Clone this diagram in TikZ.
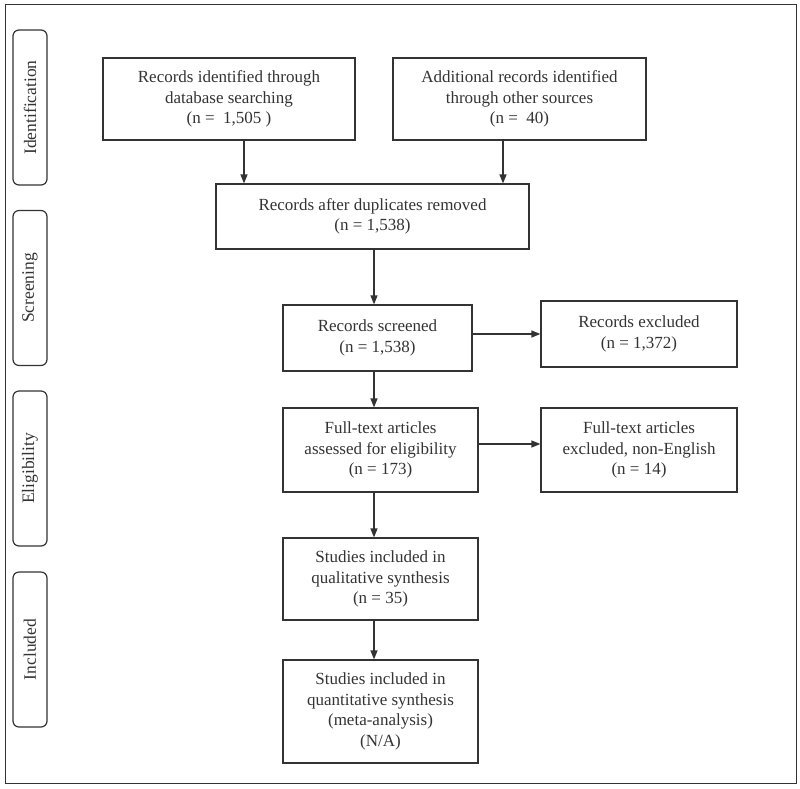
\documentclass[tikz,border=0pt]{standalone}
\usepackage{fontspec}
\setmainfont{Liberation Serif}
\usetikzlibrary{arrows.meta}
\begin{document}
\begin{tikzpicture}[x=1pt, y=-1pt, line width=1.2pt, color=black!80, >={Triangle[length=9pt, width=7pt]}]
    \tikzset{box/.style={draw, rectangle, align=center, inner sep=0pt, font=\fontsize{17}{20.5}\selectfont}};
    \tikzset{stage/.style={draw, rounded corners=6pt, rotate=90, minimum width=155pt, minimum height=34pt, inner sep=0pt, font=\fontsize{17.5}{20}\selectfont}};

    \useasboundingbox (0, 0) rectangle (800, 788);

    % Frame
    \path (5, 4) coordinate (f1);
    \path (796, 783) coordinate (f2);
    \draw[line width=1pt] (f1) rectangle (f2);

    % Stages
    \path (30, 107.5) node [stage] (st1) {Identification};
    \path (30, 288) node [stage] (st2) {Screening};
    \path (30, 468.5) node [stage] (st3) {Eligibility};
    \path (30, 649.5) node [stage] (st4) {Included};

    % Identification
    \path (229, 99) node [box, minimum width=252pt, minimum height=82pt] (a) {Records identified through\\database searching\\(n =~~1,505~)};
    \path (519.5, 99) node [box, minimum width=253pt, minimum height=82pt] (b) {Additional records identified\\through other sources\\(n =~~40)};

    % Screening
    \path (372.5, 216.5) node [box, minimum width=313pt, minimum height=65pt] (c) {Records after duplicates removed\\(n = 1,538)};
    \path (377.5, 338) node [box, minimum width=189pt, minimum height=66pt] (d) {Records screened\\(n = 1,538)};
    \path (639, 334) node [box, minimum width=196pt, minimum height=66pt] (e) {Records excluded\\(n = 1,372)};

    % Eligibility
    \path (380.5, 450) node [box, minimum width=195pt, minimum height=84pt] (f) {Full-text articles\\assessed for eligibility\\(n = 173)};
    \path (639, 450) node [box, minimum width=196pt, minimum height=84pt] (g) {Full-text articles\\excluded, non-English\\(n = 14)};

    % Included
    \path (380.5, 579) node [box, minimum width=195pt, minimum height=82pt] (h) {Studies included in\\qualitative synthesis\\(n = 35)};
    \path (380.5, 711.5) node [box, minimum width=195pt, minimum height=103pt] (i) {Studies included in\\quantitative synthesis\\(meta-analysis)\\(N/A)};

    % Edges
    \path (374, 0) coordinate (s);
    \draw[->] ([xshift=15]a.south) -- ([xshift=15]a.south |- c.north);
    \draw[->] ([xshift=-16.5]b.south) -- ([xshift=-16.5]b.south |- c.north);
    \foreach \i/\j in {c/d, d/f, f/h, h/i} { \draw[->] (\i.south -| s) -- (\j.north -| s); }
    \draw[->] (e.west -| d.east) -- (e.west);
    \draw[->] ([yshift=6]f.east) -- ([yshift=6]g.west);
\end{tikzpicture}
\end{document}
